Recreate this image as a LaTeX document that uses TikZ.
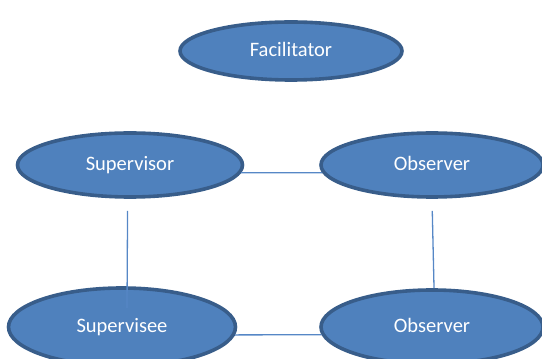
\documentclass[tikz,border=0pt]{standalone}
\usepackage{fontspec}
\setmainfont{Carlito}
\usetikzlibrary{positioning,shapes.geometric}
\definecolor{rolefill}{HTML}{4F81BD}
\definecolor{roleedge}{HTML}{385D8A}
\definecolor{linkcol}{HTML}{5687C6}

\begin{document}
\begin{tikzpicture}[x=1pt,y=1pt,
    role/.style={ellipse, draw=roleedge, fill=rolefill, line width=3.6pt,
      text=white, inner sep=0pt, minimum width=222pt, minimum height=60pt,
      text height=2.3ex, text depth=.1ex,
      font=\fontsize{20.5}{24}\selectfont},
    link/.style={draw=linkcol, line width=1.3pt}]
      \useasboundingbox (0,0) rectangle (542,359);
      \clip (0,0) rectangle (542,359);
      % Nodes
      \node[role, minimum height=58pt] (fac) at (291,308) {Facilitator};
      \node[role, minimum width=225pt, minimum height=64pt] (sup) at (130,194) {Supervisor};
      \node[role, minimum height=64pt] (obs) at (432,194) {Observer};
      \node[role, minimum width=227pt, minimum height=78pt] (see) at (122,32) {Supervisee};
      \node[role, minimum height=74pt] (obsb) at (432,32) {Observer};
      \coordinate (seein) at (127,51);

      % Lines
      \draw[link] (sup.-4) -- (obs.184);
      \draw[link] (see.-4) -- (obsb.184);
      \draw[link, shorten <=12pt] (sup.266) -- (seein);
      \draw[link, shorten <=12pt] (obs.south) -- (obsb.87);
\end{tikzpicture}
\end{document}
